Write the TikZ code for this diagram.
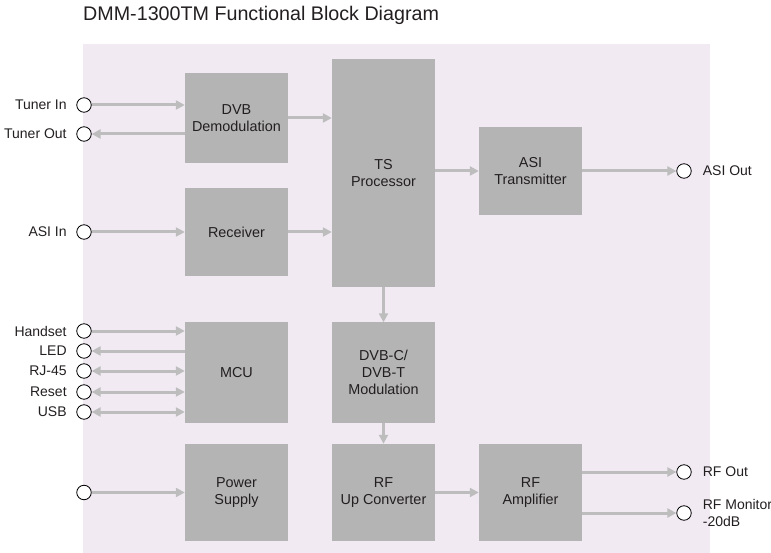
\documentclass[tikz,border=0pt]{standalone}
\usepackage{fontspec}
\setmainfont{Liberation Sans}
\usepackage{xcolor}
\usetikzlibrary{arrows.meta,positioning}

\definecolor{panelpink}{HTML}{F1EAF3}
\definecolor{blockgray}{HTML}{B4B4B4}
\definecolor{wiregray}{HTML}{BDBDBD}
\definecolor{inkdark}{HTML}{231F20}

\tikzset{
  blk/.style={fill=blockgray, minimum width=103pt, inner sep=0pt, align=center,
    text=inkdark, font=\fontsize{14.4}{17}\selectfont},
  port/.style={circle, draw=black, fill=white, line width=0.8pt, minimum size=14.5pt, inner sep=0pt},
  portlbl/.style={inner sep=0pt, text=inkdark, font=\fontsize{14}{17}\selectfont},
  sig/.style={draw=wiregray, line width=3pt, -{Triangle[length=9pt,width=9pt]}},
  bisig/.style={draw=wiregray, line width=3pt, {Triangle[length=9pt,width=9pt]}-{Triangle[length=9pt,width=9pt]}},
}

\begin{document}
\begin{tikzpicture}[x=1pt,y=-1pt]
\useasboundingbox (0,0) rectangle (771,553);
\fill[panelpink] (83,44) rectangle (710,553);
\node[anchor=west, inner sep=0pt, text=inkdark, font=\fontsize{19.7}{24}\selectfont] (title) at (83,15) {DMM-1300TM Functional Block Diagram};

% blocks
\node[blk, minimum height=90pt] (dvb) at (236.5,118) {DVB\\Demodulation};
\node[blk, minimum height=88pt] (rcv) at (236.5,232) {Receiver};
\node[blk, minimum height=228pt] (ts) at (383.5,173) {TS\\Processor};
\node[blk, minimum height=88pt] (atx) at (530.5,171) {ASI\\Transmitter};
\node[blk, minimum height=100pt] (mcu) at (236.5,372.5) {MCU};
\node[blk, minimum height=100pt] (mod) at (383.5,372.5) {DVB-C/\\DVB-T\\Modulation};
\node[blk, minimum height=97pt] (psu) at (236.5,492.5) {Power\\Supply};
\node[blk, minimum height=97pt] (rfu) at (383.5,492.5) {RF\\Up Converter};
\node[blk, minimum height=97pt] (rfa) at (530.5,492.5) {RF\\Amplifier};

% ports, left side
\node[port] (tin) at (84,105) {};
\node[port] (tout) at (84,134) {};
\node[port] (ain) at (84,232) {};
\node[port] (hset) at (84,331) {};
\node[port] (led) at (84,351) {};
\node[port] (rj) at (84,371) {};
\node[port] (rst) at (84,392) {};
\node[port] (usb) at (84,412) {};
\node[port] (pin) at (84,492.5) {};
\node[portlbl, left=9.5pt of tin] {Tuner In};
\node[portlbl, left=9.5pt of tout] {Tuner Out};
\node[portlbl, left=9.5pt of ain] {ASI In};
\node[portlbl, left=9.5pt of hset] {Handset};
\node[portlbl, left=9.5pt of led] {LED};
\node[portlbl, left=9.5pt of rj] {RJ-45};
\node[portlbl, left=9.5pt of rst] {Reset};
\node[portlbl, left=9.5pt of usb] {USB};

% ports, right side
\node[port] (aout) at (684,171) {};
\node[port] (rfout) at (684,472) {};
\node[port] (rfmon) at (684,513) {};
\node[portlbl, right=11pt of aout] {ASI Out};
\node[portlbl, right=11pt of rfout] {RF Out};
\node[portlbl, right=11pt of rfmon, align=left] {RF Monitor\\-20dB};

% signal paths
\draw[sig] (tin.east) -- (tin -| dvb.west);
\draw[sig] (tout -| dvb.west) -- (tout.east);
\draw[sig] (ain.east) -- (ain -| rcv.west);
\draw[sig] (hset.east) -- (hset -| mcu.west);
\draw[sig] (led -| mcu.west) -- (led.east);
\draw[bisig] (rj.east) -- (rj -| mcu.west);
\draw[bisig] (rst.east) -- (rst -| mcu.west);
\draw[bisig] (usb.east) -- (usb -| mcu.west);
\draw[sig] (pin.east) -- (pin -| psu.west);
\draw[sig] (dvb.east) -- (dvb.east -| ts.west);
\draw[sig] (rcv.east) -- (rcv.east -| ts.west);
\draw[sig] (atx -| ts.east) -- (atx.west);
\draw[sig] (atx.east) -- (aout.west);
\draw[sig] (ts.south) -- (mod.north);
\draw[sig] (mod.south) -- (rfu.north);
\draw[sig] (rfu.east) -- (rfa.west);
\draw[sig] (rfout -| rfa.east) -- (rfout.west);
\draw[sig] (rfmon -| rfa.east) -- (rfmon.west);
\end{tikzpicture}
\end{document}
